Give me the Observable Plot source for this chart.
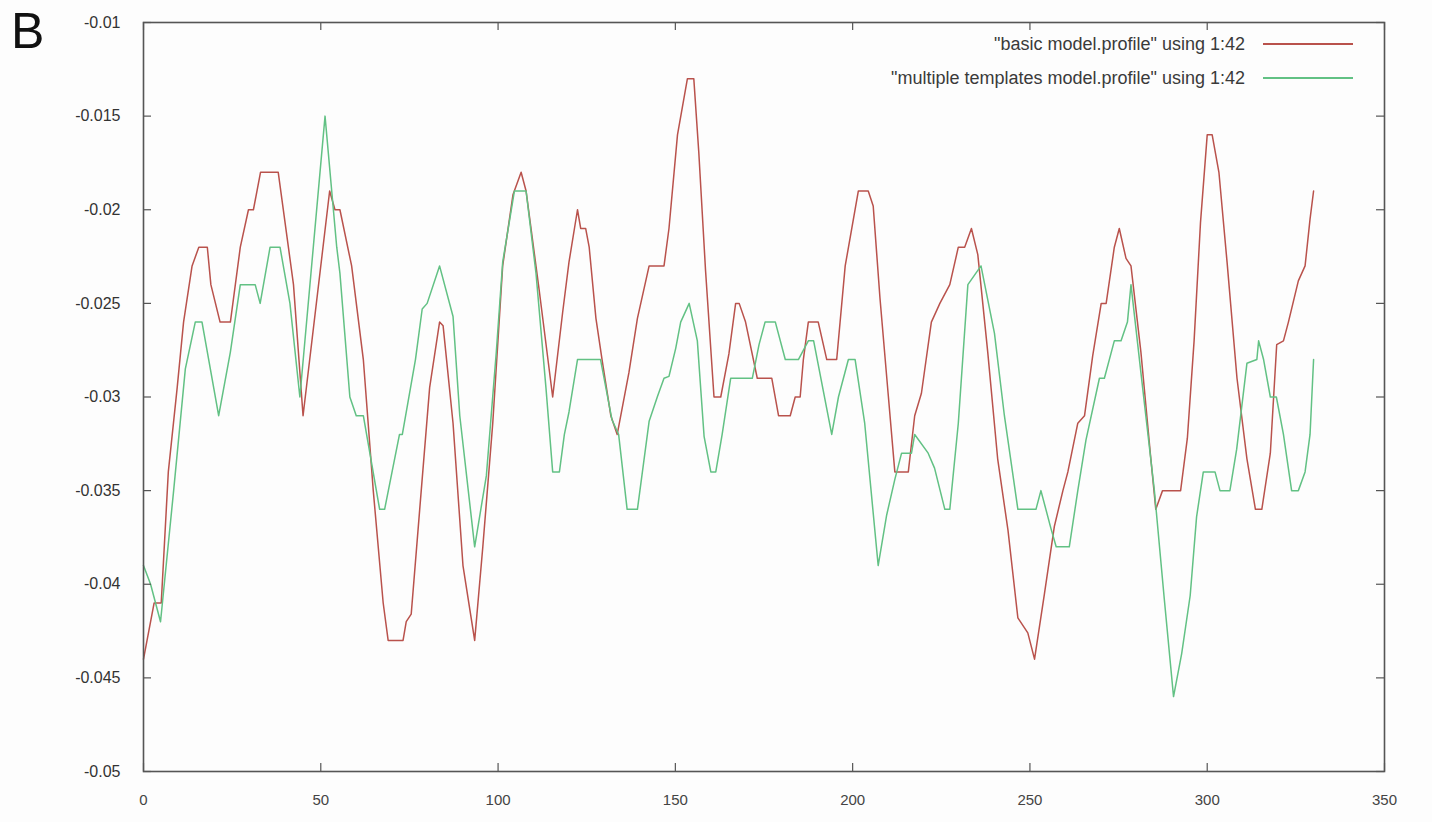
<!DOCTYPE html>
<html>
<head>
<meta charset="utf-8">
<script src="https://cdn.jsdelivr.net/npm/d3@7"></script>
<script src="https://cdn.jsdelivr.net/npm/@observablehq/plot@0.6"></script>
<style>
  html, body { margin: 0; padding: 0; background: #fdfdfd; }
  #wrap { position: relative; width: 1432px; height: 822px; font-family: "Liberation Sans", Arial, sans-serif; }
  #panel { position: absolute; left: 11px; top: 6px; font-size: 50px; line-height: 1; color: #111; font-family: "Liberation Sans Narrow", "Liberation Sans", Arial, sans-serif; }
  #legend { position: absolute; right: 79px; top: 31px; font-size: 18px; color: #3a3a3a; }
  .row { display: flex; align-items: center; justify-content: flex-end; height: 26px; margin-bottom: 8px; }
  .swatch { display: inline-block; width: 90px; height: 0; border-top: 2px solid; margin-left: 18px; }
</style>
</head>
<body>
<div id="wrap">
  <div id="chart"></div>
  <div id="panel">B</div>
  <div id="legend"></div>
</div>
<script>
// Series labels (legend) and colours
const seriesLabels = ['"basic model.profile" using 1:42', '"multiple templates model.profile" using 1:42'];
const seriesColors = ["#b9524c", "#62c184"];

// Axis ticks
const xTicks = [0, 50, 100, 150, 200, 250, 300, 350];
const yTicks = [-0.05, -0.045, -0.04, -0.035, -0.03, -0.025, -0.02, -0.015, -0.01];

// basic model profile: [residue, value]
const basicProfile = [
  [0,-0.044],[3,-0.041],[5,-0.041],[7,-0.034],[9.5,-0.0295],[11.3,-0.026],[13.7,-0.023],[15.6,-0.022],[18,-0.022],
  [19,-0.024],[21.6,-0.026],[24.5,-0.026],[27.3,-0.022],[29.6,-0.020],[31,-0.020],[33,-0.018],[38,-0.018],
  [42.3,-0.024],[45,-0.031],[52.5,-0.019],[54,-0.020],[55.4,-0.020],[58.7,-0.023],[62,-0.028],[64.8,-0.035],
  [67.6,-0.041],[69,-0.043],[73.2,-0.043],[74.1,-0.042],[75.5,-0.0416],[77.9,-0.036],[80.7,-0.0295],[83.5,-0.026],
  [84.5,-0.0262],[87.3,-0.0314],[90.1,-0.039],[93.4,-0.043],[95.7,-0.038],[98.5,-0.0314],[101.3,-0.023],
  [104.2,-0.0192],[106.5,-0.018],[107.9,-0.019],[111.6,-0.0243],[115.4,-0.030],[118.2,-0.0255],[120,-0.0228],
  [122.4,-0.020],[123.3,-0.021],[124.7,-0.021],[125.7,-0.022],[127.6,-0.0258],[129.4,-0.0281],[131.8,-0.031],
  [133.6,-0.032],[136.9,-0.0287],[139.3,-0.0258],[142.6,-0.023],[146.8,-0.023],[148.2,-0.021],[150.6,-0.016],
  [153.4,-0.013],[155.2,-0.013],[156.6,-0.0169],[158.5,-0.0232],[160.9,-0.030],[162.8,-0.030],[165.1,-0.0277],
  [167,-0.025],[168,-0.025],[169.8,-0.026],[173.1,-0.029],[177.2,-0.029],[179.1,-0.031],[182.4,-0.031],
  [183.8,-0.030],[185.2,-0.030],[186.1,-0.028],[187.5,-0.026],[190.3,-0.026],[192.7,-0.028],[195.5,-0.028],
  [197.9,-0.023],[201.6,-0.019],[204.4,-0.019],[205.8,-0.0198],[207.7,-0.0247],[210,-0.0298],[211.9,-0.034],
  [215.7,-0.034],[217.5,-0.031],[219.4,-0.0298],[222.2,-0.026],[224.6,-0.025],[227.4,-0.024],[229.8,-0.022],
  [231.6,-0.022],[233.5,-0.021],[235.3,-0.0224],[238.1,-0.0276],[240.9,-0.0333],[243.8,-0.0371],[246.6,-0.0418],
  [249.4,-0.0426],[251.3,-0.044],[254.1,-0.0405],[256.9,-0.0369],[259.3,-0.035],[260.7,-0.034],[263.5,-0.0314],
  [265.4,-0.031],[267.7,-0.0278],[270.1,-0.025],[271.5,-0.025],[273.8,-0.022],[275.2,-0.021],[277.1,-0.0226],
  [278.5,-0.023],[281.3,-0.0276],[284.1,-0.0333],[285.5,-0.036],[287.4,-0.035],[292.5,-0.035],[294.4,-0.0322],
  [296.3,-0.027],[298.1,-0.0207],[300,-0.016],[301.4,-0.016],[303.3,-0.018],[305.6,-0.0228],[308.4,-0.029],
  [311.2,-0.0333],[313.6,-0.036],[315.4,-0.036],[317.8,-0.033],[319.6,-0.0272],[321.5,-0.027],[322.9,-0.026],
  [325.7,-0.0238],[327.6,-0.023],[329,-0.0205],[330,-0.019]
];

// multiple templates model profile: [residue, value]
const multiProfile = [
  [0,-0.039],[2,-0.040],[4.8,-0.042],[8.5,-0.035],[11.8,-0.0285],[14.6,-0.026],[16.5,-0.026],[21.2,-0.031],
  [24.5,-0.0276],[27.3,-0.024],[31.5,-0.024],[32.9,-0.025],[35.7,-0.022],[38.5,-0.022],[41.3,-0.025],[44.1,-0.030],
  [51.2,-0.015],[54.5,-0.022],[55.4,-0.0234],[58.2,-0.030],[60,-0.031],[62,-0.031],[66.6,-0.036],[68,-0.036],
  [72.2,-0.032],[73,-0.032],[76.7,-0.028],[78.6,-0.0253],[80,-0.025],[83.5,-0.023],[87.3,-0.0257],[89.2,-0.031],
  [93.4,-0.038],[96.7,-0.0342],[99.5,-0.0276],[101.3,-0.0228],[104.6,-0.019],[107.9,-0.019],[110.7,-0.0234],
  [113.5,-0.0295],[115.4,-0.034],[117.3,-0.034],[118.7,-0.032],[120,-0.0308],[122.4,-0.028],[128.9,-0.028],
  [132.1,-0.0312],[134,-0.032],[136.4,-0.036],[139.3,-0.036],[142.6,-0.0313],[144.9,-0.030],[146.8,-0.029],
  [148.2,-0.0289],[150.1,-0.0274],[151.5,-0.026],[153.9,-0.025],[156.2,-0.027],[158.1,-0.0321],[160,-0.034],
  [161.4,-0.034],[163.2,-0.032],[165.6,-0.029],[171.7,-0.029],[173.6,-0.0272],[175.3,-0.026],[178.2,-0.026],
  [181,-0.028],[184.7,-0.028],[187.5,-0.027],[189,-0.027],[194.1,-0.032],[196,-0.030],[198.8,-0.028],[200.7,-0.028],
  [203.4,-0.0314],[207.2,-0.039],[209.6,-0.0363],[211.9,-0.0344],[213.8,-0.033],[216.6,-0.033],[217.5,-0.032],
  [221.3,-0.033],[223.1,-0.0338],[226,-0.036],[227.4,-0.036],[229.8,-0.0314],[232.5,-0.024],[236.2,-0.023],
  [240,-0.0266],[242.8,-0.031],[246.6,-0.036],[251.7,-0.036],[253.1,-0.035],[255.9,-0.037],[257.4,-0.038],
  [261.1,-0.038],[263.5,-0.035],[265.8,-0.0323],[269.6,-0.029],[271,-0.029],[273.8,-0.027],[275.7,-0.027],
  [277.5,-0.026],[278.5,-0.024],[281.3,-0.0287],[285.1,-0.035],[287.9,-0.0408],[290.5,-0.046],[292.8,-0.0437],
  [295.2,-0.0406],[297,-0.0364],[298.9,-0.034],[302.2,-0.034],[303.6,-0.035],[306.4,-0.035],[308.3,-0.0328],
  [311.2,-0.0282],[314,-0.028],[314.5,-0.027],[315.9,-0.028],[317.8,-0.030],[319.5,-0.030],[321.5,-0.032],
  [323.8,-0.035],[325.7,-0.035],[327.6,-0.034],[329,-0.032],[330,-0.028]
];

const rows = [
  ...basicProfile.map(([x, y]) => ({x, y, series: seriesLabels[0]})),
  ...multiProfile.map(([x, y]) => ({x, y, series: seriesLabels[1]}))
];

const W = 1432, H = 822, mL = 143, mR = 48, mT = 22, mB = 51;
const innerW = W - mL - mR, innerH = H - mT - mB;
const tick = 8;
const axisColor = "#555";

const chart = Plot.plot({
  width: W, height: H,
  marginLeft: mL, marginRight: mR, marginTop: mT, marginBottom: mB,
  style: {background: "transparent", fontFamily: "'Liberation Sans', Arial, sans-serif", fontSize: "16px", color: "#333"},
  x: {domain: [0, 350], label: null},
  y: {domain: [-0.05, -0.01], label: null},
  color: {domain: seriesLabels, range: seriesColors},
  marks: [
    Plot.line(rows, {x: "x", y: "y", z: "series", stroke: "series", strokeWidth: 1.5, curve: "linear"}),
    // inward tick marks on all four sides (gnuplot mirror ticks)
    Plot.ruleX(xTicks, {stroke: axisColor, strokeWidth: 1.2, insetTop: innerH - tick}),
    Plot.ruleX(xTicks, {stroke: axisColor, strokeWidth: 1.2, insetBottom: innerH - tick}),
    Plot.ruleY(yTicks, {stroke: axisColor, strokeWidth: 1.2, insetRight: innerW - tick}),
    Plot.ruleY(yTicks, {stroke: axisColor, strokeWidth: 1.2, insetLeft: innerW - tick}),
    Plot.frame({stroke: axisColor, strokeWidth: 1.6}),
    Plot.axisX(xTicks, {tickSize: 0, tickPadding: 23, label: null, fontSize: 15, tickFormat: d => String(d), fill: "#444"}),
    Plot.axisY(yTicks, {tickSize: 0, tickPadding: 23, label: null, fontSize: 16, tickFormat: d => String(d), fill: "#333"})
  ]
});
document.getElementById("chart").appendChild(chart);

const legend = document.getElementById("legend");
seriesLabels.forEach((label, i) => {
  const row = document.createElement("div");
  row.className = "row";
  const t = document.createElement("span");
  t.textContent = label;
  const s = document.createElement("span");
  s.className = "swatch";
  s.style.borderTopColor = seriesColors[i];
  row.appendChild(t);
  row.appendChild(s);
  legend.appendChild(row);
});
</script>
</body>
</html>
